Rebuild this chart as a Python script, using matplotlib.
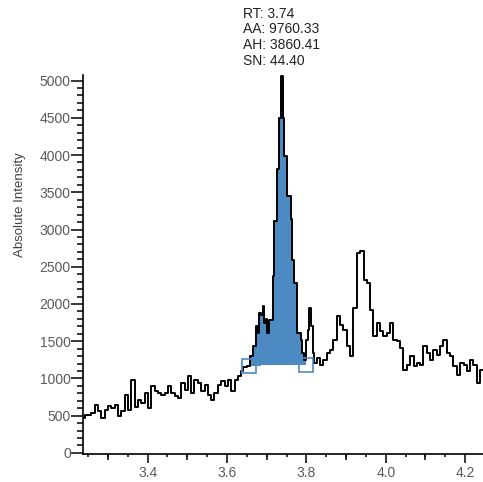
import numpy as np
import matplotlib
matplotlib.use("Agg")
import matplotlib.pyplot as plt
from matplotlib.ticker import MultipleLocator

plt.rcParams['font.family'] = ['Liberation Sans', 'DejaVu Sans']

# retention time (min) and absolute intensity
rt = [3.237, 3.246, 3.254, 3.262, 3.271, 3.279, 3.288, 3.296, 3.304, 3.313,
      3.321, 3.330, 3.338, 3.346, 3.355, 3.363, 3.371, 3.380, 3.388, 3.397,
      3.405, 3.413, 3.422, 3.430, 3.439, 3.447, 3.455, 3.464, 3.472, 3.481,
      3.489, 3.497, 3.506, 3.514, 3.522, 3.531, 3.539, 3.548, 3.556, 3.564,
      3.573, 3.581, 3.590, 3.598, 3.606, 3.615, 3.623, 3.632,
      3.637, 3.645, 3.654, 3.662, 3.671, 3.675, 3.679, 3.683, 3.687, 3.692,
      3.696, 3.700, 3.704, 3.708, 3.713, 3.717, 3.721, 3.725, 3.729, 3.734,
      3.738, 3.742, 3.746, 3.750, 3.754, 3.759, 3.763, 3.767, 3.771, 3.775,
      3.780, 3.784, 3.788, 3.792, 3.797, 3.801, 3.805, 3.809, 3.813, 3.818,
      3.822, 3.826, 3.830,
      3.839, 3.847, 3.855, 3.864, 3.872, 3.881, 3.889, 3.897, 3.906, 3.914,
      3.922, 3.931, 3.940, 3.948, 3.956, 3.965, 3.973, 3.982, 3.990, 3.998,
      4.007, 4.015, 4.024, 4.032, 4.040, 4.049, 4.057, 4.066, 4.074, 4.082,
      4.091, 4.099, 4.108, 4.116, 4.124, 4.133, 4.141, 4.149, 4.158, 4.166,
      4.175, 4.183, 4.192, 4.200, 4.208, 4.217, 4.225, 4.233, 4.242]
intensity = [471, 511, 511, 540, 646, 556, 470, 578, 623, 600,
             646, 489, 556, 780, 578, 982, 620, 713, 668, 807,
             605, 892, 825, 800, 780, 807, 892, 807, 770, 735,
             938, 848, 1027, 807, 982, 938, 825, 915, 780, 713,
             800, 915, 960, 892, 982, 825, 982, 1027,
             1100, 1160, 1161, 1296, 1430, 1699, 1610, 1879, 1850, 1968,
             1744, 1800, 1610, 1789, 1789, 2372, 3112, 3112, 3808, 4503,
             5063, 4503, 3987, 3987, 3449, 3449, 3135, 2597, 2283, 2283,
             1610, 1610, 1520, 1340, 1251, 1520, 1655, 1946, 1699, 1340,
             1206, 1206, 1273,
             1184, 1251, 1341, 1386, 1520, 1834, 1722, 1650, 1430, 1296,
             1947, 2687, 2710, 2328, 2283, 1924, 1565, 1745, 1632, 1565,
             1610, 1745, 1520, 1498, 1408, 1117, 1184, 1296, 1161, 1206,
             1184, 1430, 1341, 1251, 1386, 1318, 1430, 1520, 1341, 1296,
             1161, 1050, 1206, 1184, 1094, 1251, 1184, 938, 1117]

# integration limits (start/end markers) and baseline levels
peak_bounds = [3.6555, 3.798]
baseline_levels = [1171, 1184]
peak_label = "RT: 3.74\nAA: 9760.33\nAH: 3860.41\nSN: 44.40"

blue = '#4d8ac4'
grey = '#5a5a5a'

rt = np.array(rt)
intensity = np.array(intensity)

fig = plt.figure(figsize=(4.83, 4.82), dpi=100)
ax = fig.add_axes([0.1725, 0.0581, 0.8275, 0.7863])

# filled integrated area between trace and baseline
mask = (rt >= peak_bounds[0]) & (rt <= peak_bounds[1])
rt_fill = np.concatenate([[peak_bounds[0]], rt[mask], [peak_bounds[1]]])
int_fill = np.interp(rt_fill, rt, intensity)
base_fill = np.interp(rt_fill, peak_bounds, baseline_levels)
ax.fill_between(rt_fill, base_fill, int_fill, step='mid', color=blue, lw=0, zorder=1)

ax.plot(rt, intensity, color='black', lw=1.4, drawstyle='steps-mid', zorder=2)

ax.plot(peak_bounds, baseline_levels, ls='none', marker='s', ms=10,
        mfc='none', mec=blue, mew=1.2, zorder=3)

i_max = int(np.argmax(intensity))
ax.annotate(peak_label, xy=(rt[i_max], intensity[i_max]), xytext=(0, 6),
            textcoords='offset points', ha='center', va='bottom',
            multialignment='left', fontsize=10, color='#222222', linespacing=1.15)

ax.set_xlim(3.238, 4.245)
ax.set_ylim(-15, 5075)

for s in ['top', 'right']:
    ax.spines[s].set_visible(False)
for s in ['left', 'bottom']:
    ax.spines[s].set_linewidth(1.2)

ax.xaxis.set_major_locator(MultipleLocator(0.2))
ax.xaxis.set_minor_locator(MultipleLocator(0.05))
ax.yaxis.set_major_locator(MultipleLocator(500))
ax.yaxis.set_minor_locator(MultipleLocator(100))
ax.xaxis.set_major_formatter(plt.FormatStrFormatter('%.1f'))

ax.tick_params(axis='x', which='major', length=6.5, width=1.1, pad=2,
               labelsize=10, labelcolor=grey)
ax.tick_params(axis='x', which='minor', length=1.8, width=1.1)
ax.tick_params(axis='y', which='major', length=8.5, width=1.1, pad=0.5,
               labelsize=10, labelcolor=grey)
ax.tick_params(axis='y', which='minor', length=4.3, width=1.1)

# mid-length ticks at every 0.1 min
sec = ax.secondary_xaxis('bottom')
sec.set_xticks([3.3, 3.5, 3.7, 3.9, 4.1])
sec.set_xticklabels([])
sec.tick_params(length=4.3, width=1.1)
sec.spines['bottom'].set_visible(False)

ax.set_ylabel('Absolute Intensity', fontsize=9.5, color='#404040', va='center')
ax.yaxis.set_label_coords(-0.158, 0.657)

fig.savefig('out.png', dpi=100)
